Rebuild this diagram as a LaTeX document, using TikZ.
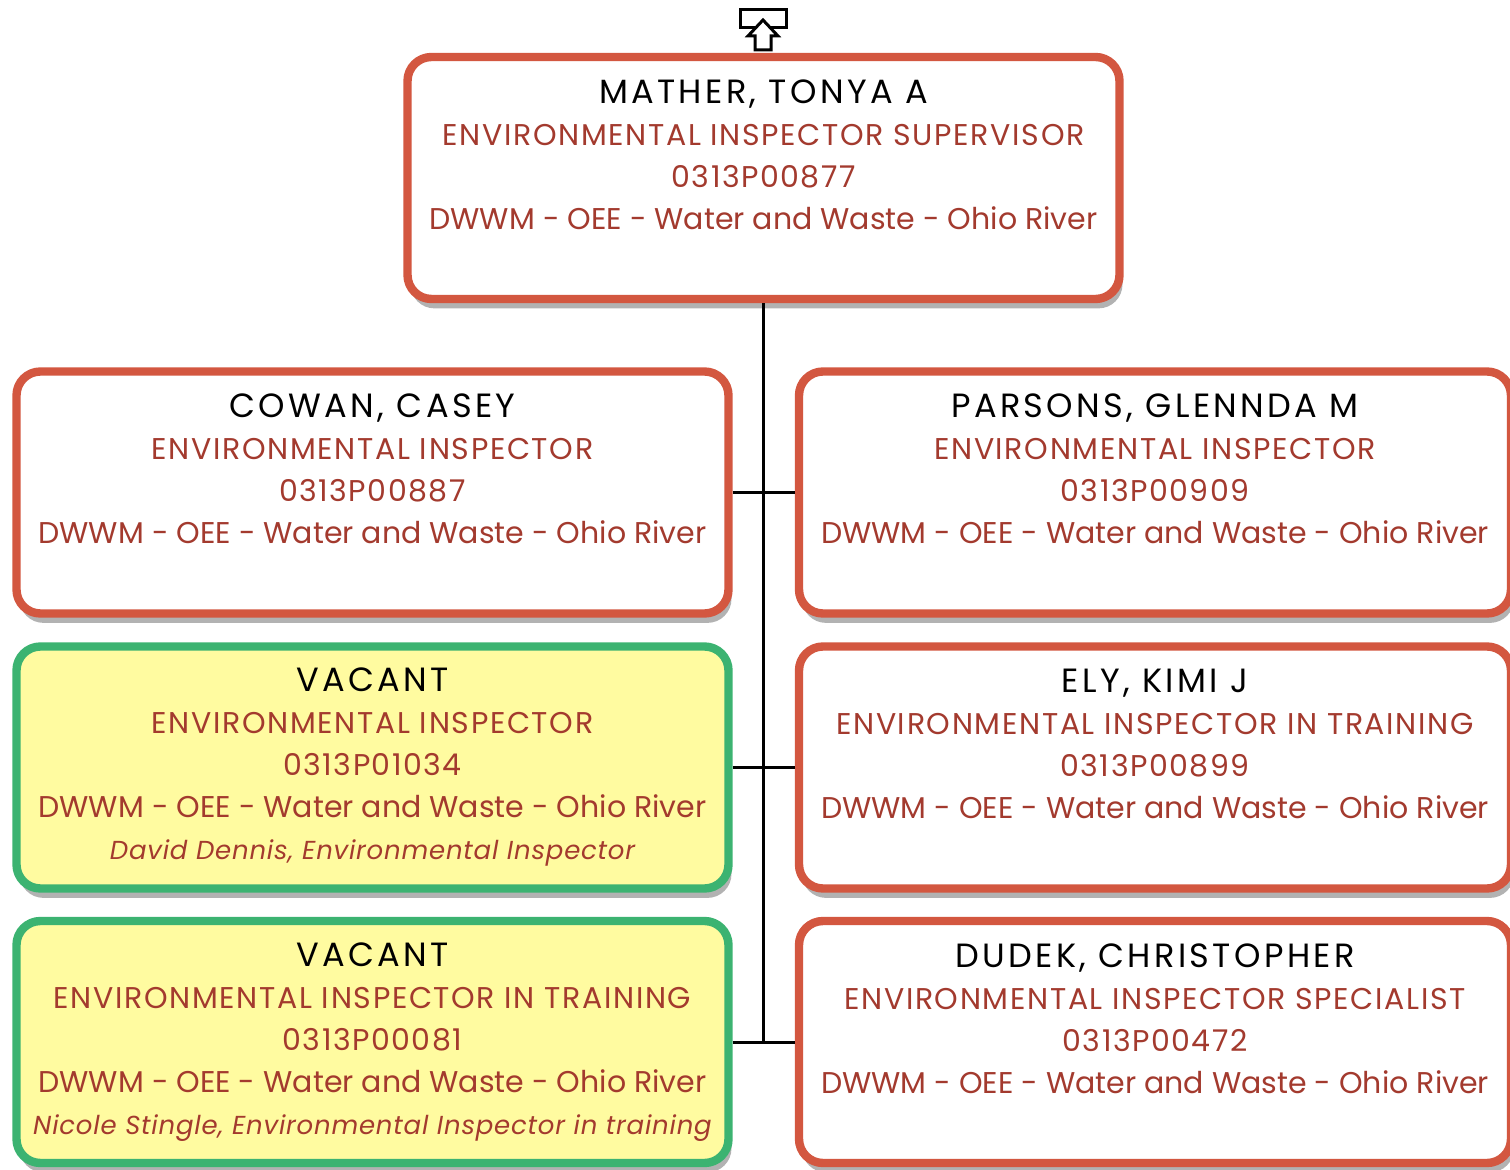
\documentclass[tikz,border=0pt]{standalone}
\usepackage{fontspec}
\setmainfont{Poppins}
\usepackage{xcolor}
\usetikzlibrary{shadows,positioning}

\definecolor{boxred}{RGB}{211,87,64}
\definecolor{boxgreen}{RGB}{60,179,113}
\definecolor{vacfill}{RGB}{255,251,160}
\definecolor{txtred}{RGB}{163,58,46}
\definecolor{shadowgray}{RGB}{178,178,178}

\newcommand{\empname}[1]{{\color{black}\fontsize{16.8}{21}\selectfont\addfontfeatures{LetterSpace=10}#1}}
\newcommand{\postitle}[1]{{\addfontfeatures{LetterSpace=5.5}#1}}
\newcommand{\posnum}[1]{{\addfontfeatures{LetterSpace=5}#1}}
\newcommand{\actname}[1]{{\fontsize{13}{21}\selectfont\itshape\addfontfeatures{LetterSpace=3}#1}}

\begin{document}
\begin{tikzpicture}[x=0.5pt,y=-0.5pt,
  person/.style={draw=boxred,line width=4.2pt,rounded corners=12pt,fill=white,
    minimum width=356pt,minimum height=121pt,align=center,text=txtred,
    font=\fontsize{15}{21}\selectfont,
    drop shadow={shadow xshift=1.5pt,shadow yshift=-4.7pt,fill=shadowgray,opacity=1}},
  vacant/.style={person,draw=boxgreen,fill=vacfill},
  link/.style={line width=1.5pt,black}
]
  \useasboundingbox (0,0) rectangle (1510,1170);

  % up-level icon
  \draw[line width=1.5pt,fill=white] (740,10) rectangle (786,28);
  \draw[line width=1.5pt,fill=white,line join=miter]
    (763,20) -- (778,36) -- (771,36) -- (771,50) -- (755,50) -- (755,36) -- (748,36) -- cycle;

  \node[person] (mather) at (763.5,178) {\empname{MATHER, TONYA A}\\\postitle{ENVIRONMENTAL INSPECTOR SUPERVISOR}\\\posnum{0313P00877}\\DWWM - OEE - Water and Waste - Ohio River\\[2.5pt]\mbox{}};

  \node[person] (cowan) at (372.5,492.5) {\empname{COWAN, CASEY}\\\postitle{ENVIRONMENTAL INSPECTOR}\\\posnum{0313P00887}\\DWWM - OEE - Water and Waste - Ohio River\\[2.5pt]\mbox{}};
  \node[person] (parsons) at (1155,492.5) {\empname{PARSONS, GLENNDA M}\\\postitle{ENVIRONMENTAL INSPECTOR}\\\posnum{0313P00909}\\DWWM - OEE - Water and Waste - Ohio River\\[2.5pt]\mbox{}};

  \node[vacant] (vacantA) at (372.5,767.5) {\empname{VACANT}\\\postitle{ENVIRONMENTAL INSPECTOR}\\\posnum{0313P01034}\\DWWM - OEE - Water and Waste - Ohio River\\\actname{David Dennis, Environmental Inspector}};
  \node[person] (ely) at (1155,767.5) {\empname{ELY, KIMI J}\\\postitle{ENVIRONMENTAL INSPECTOR IN TRAINING}\\\posnum{0313P00899}\\DWWM - OEE - Water and Waste - Ohio River\\[2.5pt]\mbox{}};

  \node[vacant] (vacantB) at (372.5,1042) {\empname{VACANT}\\\postitle{ENVIRONMENTAL INSPECTOR IN TRAINING}\\\posnum{0313P00081}\\DWWM - OEE - Water and Waste - Ohio River\\\actname{Nicole Stingle, Environmental Inspector in training}};
  \node[person] (dudek) at (1155,1042) {\empname{DUDEK, CHRISTOPHER}\\\postitle{ENVIRONMENTAL INSPECTOR SPECIALIST}\\\posnum{0313P00472}\\DWWM - OEE - Water and Waste - Ohio River\\[2.5pt]\mbox{}};

  \draw[link] (mather.south) -- (mather.south |- vacantB.east);
  \draw[link] (cowan.east) -- (parsons.west);
  \draw[link] (vacantA.east) -- (ely.west);
  \draw[link] (vacantB.east) -- (dudek.west);
\end{tikzpicture}
\end{document}
